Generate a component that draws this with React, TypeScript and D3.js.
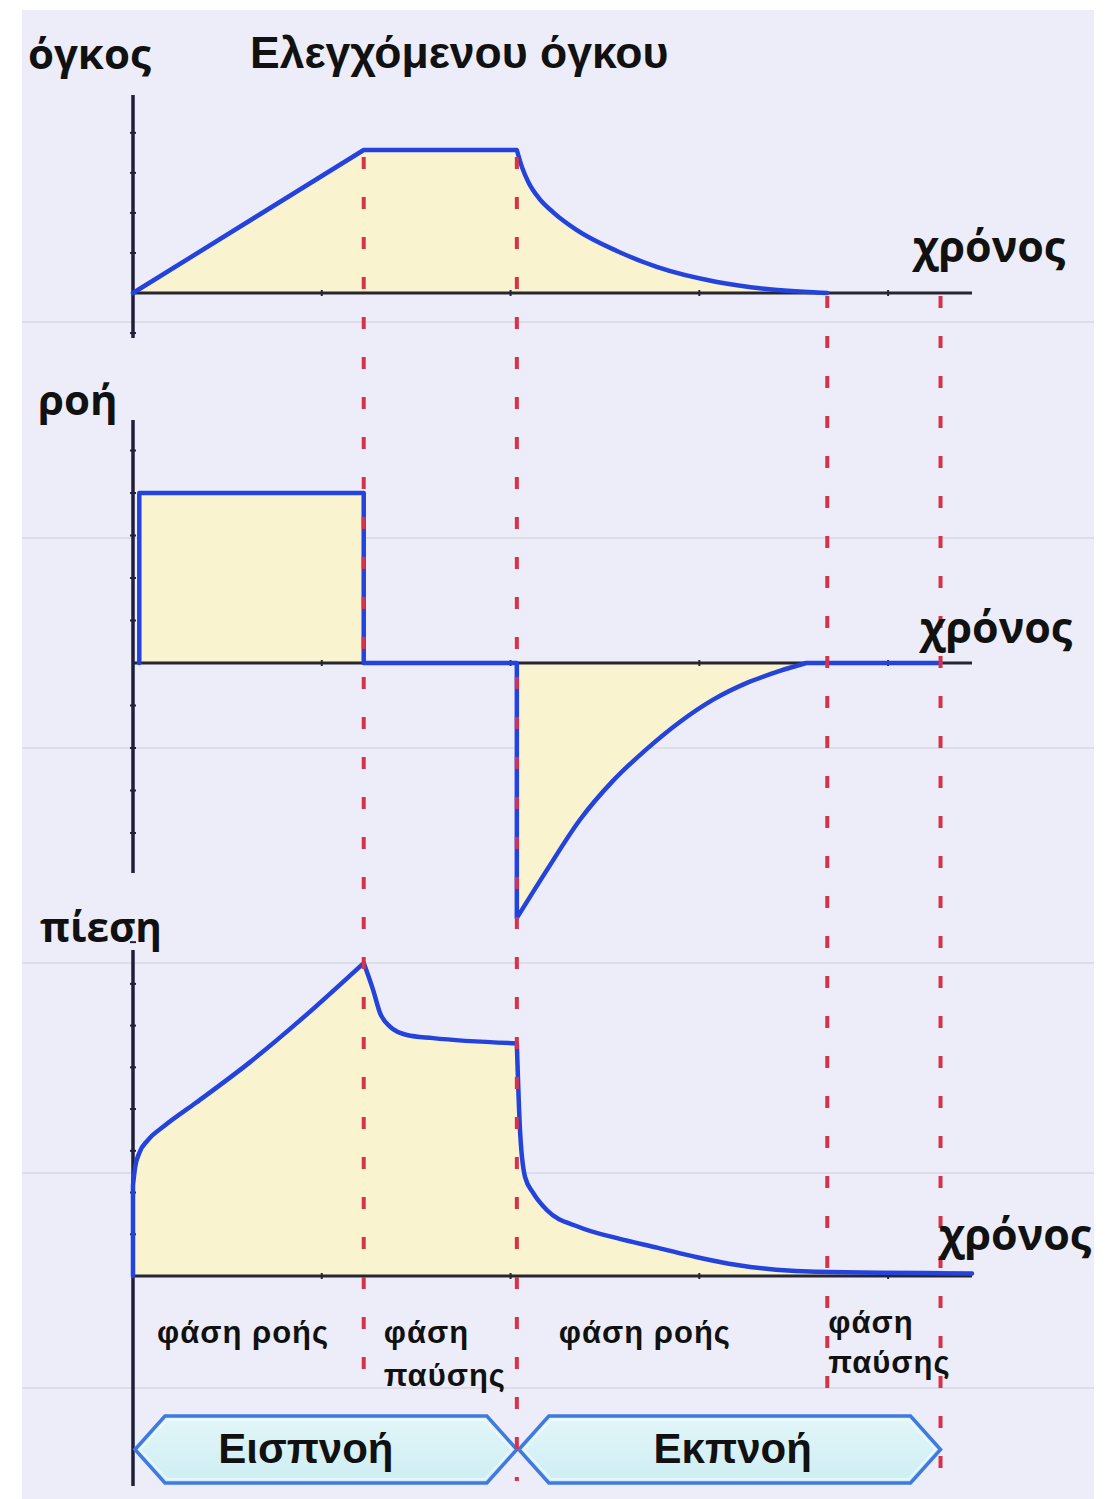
import React from "react";
import * as d3 from "d3";

// Breath phases, in seconds: start, end of inspiratory flow, end of inspiratory pause,
// end of expiratory flow, end of expiratory pause
const phaseTimes = [0, 1.1, 1.83, 3.31, 3.85];
const timeAxisEnd = 4.0;
const timeTicks = [0.9, 1.8, 2.7, 3.6];

// Minor ticks on each vertical axis (in that panel's units)
const volumeTicks = [-140, 140, 280, 420, 560];
const flowTicks = [-60, -45, -30, -15, 15, 30, 45, 60, 75];
const pressureTicks = [4, 8, 12, 16, 20, 24, 28, 32];

type Pt = [number, number];

// Volume (mL) against time (s)
const volumeInspiration: Pt[] = [[0, 0], [1.1, 500], [1.83, 500]];
const volumeExpiration: Pt[] = [
  [1.83, 500], [1.854, 441], [1.887, 385], [1.935, 332], [2.002, 283], [2.116, 220],
  [2.307, 147], [2.497, 91], [2.784, 38.5], [3.022, 14], [3.26, 2], [3.31, 0],
];

// Flow (L/min) against time (s)
const flowInspiration: Pt[] = [
  [0.03, 0], [0.03, 60], [1.1, 60], [1.1, 0], [1.83, 0], [1.83, -90],
];
const flowExpiration: Pt[] = [
  [1.83, -90], [1.973, -73.1], [2.13, -55.4], [2.288, -41.6], [2.45, -30.3], [2.607, -20.8],
  [2.764, -13], [2.927, -7], [3.084, -2.8], [3.21, 0],
];
const flowRest: Pt[] = [[3.21, 0], [3.85, 0]];

// Airway pressure (cmH2O) against time (s)
const pressureOnset: Pt[] = [[0, 0], [0, 8.7]];
const pressureRise: Pt[] = [
  [0, 8.7], [0.01, 10.4], [0.03, 11.8], [0.07, 13.0], [0.15, 14.4], [0.3, 16.6],
  [0.558, 20.5], [0.796, 24.5], [1.1, 30],
];
const pressurePause: Pt[] = [
  [1.1, 30], [1.145, 27.4], [1.178, 25.2], [1.225, 23.9], [1.306, 23.1], [1.43, 22.8], [1.83, 22.3],
];
const pressureRelease: Pt[] = [
  [1.83, 22.3], [1.845, 14.0], [1.869, 9.5], [1.907, 8.0], [1.974, 6.3], [2.126, 4.7],
  [2.312, 3.6], [2.503, 2.7], [2.689, 1.8], [2.88, 1.05], [3.066, 0.6], [3.256, 0.4], [4.0, 0.25],
];

const titleText = "Ελεγχόμενου όγκου";
const panelLabels = ["όγκος", "ροή", "πίεση"];
const timeLabel = "χρόνος";
const phaseLabels = [["φάση ροής"], ["φάση", "παύσης"], ["φάση ροής"], ["φάση", "παύσης"]];
const breathLabels = ["Εισπνοή", "Εκπνοή"];

const W = 1110;
const H = 1499;
const BLUE = "#2443dc";
const RED = "#d6334b";
const FILL = "#faf3cf";
const INK = "#111";
const SANS = "'Open Sans', 'Noto Sans', sans-serif";
const ARIAL = "'Liberation Sans', Arial, sans-serif";

const x = d3.scaleLinear().domain([0, timeAxisEnd]).range([133, 972]);
const yVolume = d3.scaleLinear().domain([0, 500]).range([293, 150]);
const yFlow = d3.scaleLinear().domain([0, 60]).range([663, 493]);
const yPressure = d3.scaleLinear().domain([0, 30]).range([1276, 963]);

type Seg = { pts: Pt[]; smooth: boolean };

// Joins straight and smoothed pieces into one continuous path
function tracePath(segs: Seg[], y: d3.ScaleLinear<number, number>): string {
  return segs
    .map((s, i) => {
      const gen = d3
        .line<Pt>()
        .x((d) => x(d[0]))
        .y((d) => y(d[1]))
        .curve(s.smooth ? d3.curveMonotoneX : d3.curveLinear);
      const p = gen(s.pts) || "";
      return i === 0 ? p : p.replace(/^M/, "L");
    })
    .join("");
}

function fillPath(segs: Seg[], y: d3.ScaleLinear<number, number>): string {
  const first = segs[0].pts[0];
  const lastSeg = segs[segs.length - 1].pts;
  const last = lastSeg[lastSeg.length - 1];
  return tracePath(segs, y) + `L${x(last[0])},${y(0)}L${x(first[0])},${y(0)}Z`;
}

const volumeSegs: Seg[] = [
  { pts: volumeInspiration, smooth: false },
  { pts: volumeExpiration, smooth: true },
];
const flowSegs: Seg[] = [
  { pts: flowInspiration, smooth: false },
  { pts: flowExpiration, smooth: true },
  { pts: flowRest, smooth: false },
];
const pressureSegs: Seg[] = [
  { pts: pressureOnset, smooth: false },
  { pts: pressureRise, smooth: true },
  { pts: pressurePause, smooth: true },
  { pts: pressureRelease, smooth: true },
];

const panels = [
  { y: yVolume, segs: volumeSegs, ticks: volumeTicks, axisTop: 95, axisBottom: 338 },
  { y: yFlow, segs: flowSegs, ticks: flowTicks, axisTop: 420, axisBottom: 873 },
  { y: yPressure, segs: pressureSegs, ticks: pressureTicks, axisTop: 950, axisBottom: 1486 },
];

const faintRules = [322, 538, 748, 963, 1173, 1388];

function Banner({ t0, t1, label, shift }: { t0: number; t1: number; label: string; shift: number }) {
  const xl = x(t0) + 2;
  const xr = x(t1);
  const top = 1416;
  const bot = 1483;
  const mid = (top + bot) / 2;
  const k = 30;
  const d = `M${xl},${mid}L${xl + k},${top}L${xr - k},${top}L${xr},${mid}L${xr - k},${bot}L${xl + k},${bot}Z`;
  return (
    <g>
      <path d={d} fill="url(#bannerFill)" stroke="#3f7ae0" strokeWidth={3.5} strokeLinejoin="miter" />
      <path
        d={`M${xl + 5},${mid}L${xl + k + 2},${top + 4}L${xr - k - 2},${top + 4}L${xr - 5},${mid}L${xr - k - 2},${bot - 4}L${xl + k + 2},${bot - 4}Z`}
        fill="none"
        stroke="#ffffff"
        strokeOpacity={0.6}
        strokeWidth={1.5}
      />
      <text
        x={(xl + xr) / 2 + shift}
        y={1463}
        textAnchor="middle"
        fontFamily={ARIAL}
        fontWeight={700}
        fontSize={42}
        fill={INK}
      >
        {label}
      </text>
    </g>
  );
}

export default function App() {
  const dashTimes = phaseTimes.slice(1);
  const dashStart = [yVolume(500) + 7, yVolume(500) + 7, yVolume(0) + 3, yVolume(0) + 3];
  const dashEnd = [1396, 1481, 1396, 1484];

  const phaseOffsets = [24, 20, 42, 1];
  const phaseBaselines = [
    [1343, 1386],
    [1343, 1386],
    [1343, 1386],
    [1333, 1373],
  ];

  const timeLabelPos = [
    { x: 913, y: 262 },
    { x: 920, y: 643 },
    { x: 939, y: 1250 },
  ];
  const panelLabelPos = [
    { x: 28, y: 69 },
    { x: 38, y: 415 },
    { x: 40, y: 942 },
  ];

  return (
    <svg
      width={W}
      height={H}
      viewBox={`0 0 ${W} ${H}`}
      style={{ position: "absolute", left: 0, top: 0, background: "#ffffff" }}
    >
      <defs>
        <linearGradient id="bannerFill" x1="0" y1="0" x2="0" y2="1">
          <stop offset="0" stopColor="#e3f6f8" />
          <stop offset="1" stopColor="#cdeef3" />
        </linearGradient>
      </defs>

      <rect x={22} y={10} width={1072} height={H - 10} fill="#ecedf8" />
      {faintRules.map((ry) => (
        <line key={ry} x1={22} x2={1094} y1={ry} y2={ry} stroke="#dcdde7" strokeWidth={2} />
      ))}

      {/* filled areas under each trace */}
      {panels.map((p, i) => (
        <path key={`f${i}`} d={fillPath(p.segs, p.y)} fill={FILL} />
      ))}

      {/* axes */}
      {panels.map((p, i) => (
        <g key={`a${i}`}>
          <line x1={x(0)} x2={x(timeAxisEnd)} y1={p.y(0)} y2={p.y(0)} stroke="#262630" strokeWidth={3} />
          <line x1={x(0)} x2={x(0)} y1={p.axisTop} y2={p.axisBottom} stroke="#1f1f3d" strokeWidth={3.5} />
          {p.ticks.map((v) => (
            <line key={v} x1={x(0) - 3} x2={x(0) + 3} y1={p.y(v)} y2={p.y(v)} stroke="#1f1f3d" strokeWidth={2} />
          ))}
          {timeTicks.map((t) => (
            <line key={t} x1={x(t)} x2={x(t)} y1={p.y(0) - 3} y2={p.y(0) + 3} stroke="#262630" strokeWidth={2} />
          ))}
        </g>
      ))}

      {/* traces */}
      {panels.map((p, i) => (
        <path
          key={`l${i}`}
          d={tracePath(p.segs, p.y)}
          fill="none"
          stroke={BLUE}
          strokeWidth={4.5}
          strokeLinejoin="round"
          strokeLinecap="round"
        />
      ))}

      {/* inspiration / expiration banners */}
      <Banner t0={phaseTimes[0]} t1={phaseTimes[2]} label={breathLabels[0]} shift={-20} />
      <Banner t0={phaseTimes[2]} t1={phaseTimes[4]} label={breathLabels[1]} shift={3} />

      {/* phase boundaries */}
      {dashTimes.map((t, i) => (
        <line
          key={`d${i}`}
          x1={x(t)}
          x2={x(t)}
          y1={dashStart[i]}
          y2={dashEnd[i]}
          stroke={RED}
          strokeWidth={4}
          strokeDasharray="12 28"
        />
      ))}

      {/* text */}
      <text x={250} y={68} fontFamily={ARIAL} fontWeight={700} fontSize={44.5} fill={INK}>
        {titleText}
      </text>
      {panelLabels.map((s, i) => (
        <text
          key={s}
          x={panelLabelPos[i].x}
          y={panelLabelPos[i].y}
          fontFamily={SANS}
          fontWeight={700}
          fontSize={i === 2 ? 40.5 : 42}
          fill={INK}
        >
          {s}
        </text>
      ))}
      {timeLabelPos.map((pos, i) => (
        <text key={`t${i}`} x={pos.x} y={pos.y} fontFamily={SANS} fontWeight={700} fontSize={43} fill={INK}>
          {timeLabel}
        </text>
      ))}
      {phaseLabels.map((lines, i) => (
        <g key={`p${i}`}>
          {lines.map((s, j) => (
            <text
              key={j}
              x={x(phaseTimes[i]) + phaseOffsets[i]}
              y={phaseBaselines[i][j]}
              fontFamily={ARIAL}
              fontWeight={700}
              fontSize={31}
              letterSpacing={1}
              fill={INK}
            >
              {s}
            </text>
          ))}
        </g>
      ))}
    </svg>
  );
}
